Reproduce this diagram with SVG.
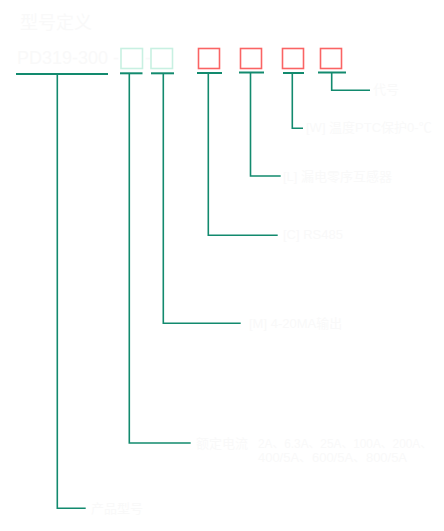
<svg xmlns="http://www.w3.org/2000/svg" width="444" height="531" viewBox="0 0 444 531">
<style>
.t{fill:#f9f9f9;font-family:"Liberation Sans","Noto Sans CJK SC",sans-serif;font-size:13px}
.big{font-size:18px}
.sm{font-size:12px}
.c{fill:none;stroke:#128a6e;stroke-width:1.6}
.u{fill:none;stroke:#128a6e;stroke-width:2}
.g{fill:#fff;stroke:#c8f0e2;stroke-width:1.6}
.r{fill:#fff;stroke:#fa6464;stroke-width:1.6}
</style>
<rect width="444" height="531" fill="#fff"/>
<g id="title"><text class="t big" x="20" y="29">型号定义</text></g>
<g id="model">
<text class="t big" x="17" y="64">PD319-300 -</text>
<text class="t big" x="145" y="64">-</text>
<line class="u" x1="16" y1="74" x2="108" y2="74"/>
</g>
<g id="box-current"><rect class="g" x="121" y="48.5" width="21.5" height="20"/><line class="u" x1="120" y1="73.3" x2="142.5" y2="73.3"/></g>
<g id="box-output"><rect class="g" x="151" y="48.5" width="21.5" height="20"/><line class="u" x1="151" y1="73.3" x2="174" y2="73.3"/></g>
<g id="box-comm"><rect class="r" x="198.5" y="48.5" width="21" height="20"/><line class="u" x1="197" y1="73" x2="222" y2="73"/></g>
<g id="box-leak"><rect class="r" x="240.5" y="48.5" width="21" height="20"/><line class="u" x1="239" y1="72.5" x2="264" y2="72.5"/></g>
<g id="box-temp"><rect class="r" x="282.5" y="48.5" width="21" height="20"/><line class="u" x1="283" y1="73" x2="304" y2="73"/></g>
<g id="box-code"><rect class="r" x="320.5" y="48.5" width="21" height="20"/><line class="u" x1="318" y1="72.5" x2="346" y2="72.5"/></g>
<g id="connectors">
<polyline class="c" points="331.7,73 331.7,90.3 370,90.3"/>
<polyline class="c" points="292.3,74 292.3,128.3 303,128.3"/>
<polyline class="c" points="250.5,73 250.5,176 280.7,176"/>
<polyline class="c" points="208.3,74 208.3,235.3 277.7,235.3"/>
<polyline class="c" points="163.3,74 163.3,323.3 240.7,323.3"/>
<polyline class="c" points="129.3,74 129.3,443 190.7,443"/>
<polyline class="c" points="57.3,75 57.3,508.3 85.7,508.3"/>
</g>
<g id="label-code"><text class="t" x="373" y="94">代号</text></g>
<g id="label-temp"><text class="t" x="306" y="132">[W] 温度PTC保护0-℃</text></g>
<g id="label-leak"><text class="t" x="283" y="181">[L] 漏电零序互感器</text></g>
<g id="label-comm"><text class="t" x="283" y="239">[C] RS485</text></g>
<g id="label-output"><text class="t" x="249" y="328">[M] 4-20MA输出</text></g>
<g id="label-current">
<text class="t" x="196" y="448">额定电流</text>
<text class="t sm" x="258" y="448" textLength="174" lengthAdjust="spacingAndGlyphs">2A、6.3A、25A、100A、200A、</text>
<text class="t sm" x="258" y="462" textLength="149" lengthAdjust="spacingAndGlyphs">400/5A、600/5A、800/5A</text>
</g>
<g id="label-product"><text class="t" x="91" y="513">产品型号</text></g>
</svg>
